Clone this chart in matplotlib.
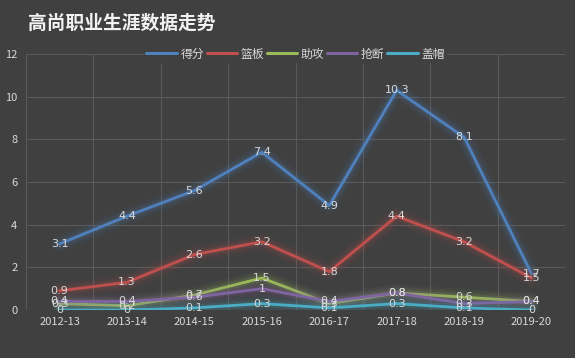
import numpy as np
import matplotlib
matplotlib.use('Agg')
import matplotlib.pyplot as plt
import matplotlib.patheffects as pe

plt.rcParams['font.family'] = ['Noto Sans CJK SC', 'DejaVu Sans']

seasons = ['2012-13', '2013-14', '2014-15', '2015-16', '2016-17', '2017-18', '2018-19', '2019-20']
points = [3.1, 4.4, 5.6, 7.4, 4.9, 10.3, 8.1, 1.7]
rebounds = [0.9, 1.3, 2.6, 3.2, 1.8, 4.4, 3.2, 1.5]
assists = [0.3, 0.2, 0.7, 1.5, 0.3, 0.8, 0.6, 0.4]
steals = [0.4, 0.4, 0.6, 1, 0.4, 0.8, 0.3, 0.4]
blocks = [0, 0, 0.1, 0.3, 0.1, 0.3, 0.1, 0]

series = [
    ('得分', points, '#4f81bd'),
    ('篮板', rebounds, '#c0504d'),
    ('助攻', assists, '#9bbb59'),
    ('抢断', steals, '#8064a2'),
    ('盖帽', blocks, '#4bacc6'),
]

bg = '#404040'
txt = '#d9d9d9'

fig = plt.figure(figsize=(5.75, 3.58), dpi=100, facecolor=bg)
ax = fig.add_axes([0.045, 0.134, 0.938, 0.715], facecolor=bg)

x = np.arange(len(seasons))
for name, vals, col in series:
    glow = [pe.Stroke(linewidth=12, foreground=col, alpha=0.05),
            pe.Stroke(linewidth=8.5, foreground=col, alpha=0.08),
            pe.Stroke(linewidth=5, foreground=col, alpha=0.15),
            pe.Normal()]
    ax.plot(x, vals, color=col, lw=2.0, label=name, path_effects=glow, zorder=3,
            solid_capstyle='round', solid_joinstyle='round')
    for xi, v in zip(x, vals):
        ax.text(xi, v, f'{v:g}', color=txt, fontsize=8, ha='center', va='center',
                family='DejaVu Sans', zorder=4)

ax.set_xlim(-0.5, len(seasons) - 0.5)
ax.set_ylim(0, 12)
ax.set_yticks(np.arange(0, 13, 2))
ax.set_xticks(x)
ax.set_xticklabels(seasons)
ax.set_xticks(np.arange(-0.5, len(seasons), 1), minor=True)
ax.grid(True, which='minor', axis='x', color='#595959', lw=0.8)
ax.grid(True, which='major', axis='y', color='#595959', lw=0.8)
ax.tick_params(which='both', length=0, colors=txt, labelsize=8)
ax.tick_params(axis='x', pad=5)
ax.tick_params(axis='y', pad=6)
for s in ax.spines.values():
    s.set_visible(False)

leg = ax.legend(loc='center', bbox_to_anchor=(0.5, 1.0), ncol=5, frameon=True,
                facecolor=bg, edgecolor=bg, framealpha=1, fontsize=8.5,
                handlelength=2.6, handletextpad=0.3, columnspacing=0.2,
                borderpad=0.1)
for t in leg.get_texts():
    t.set_color(txt)
for h in leg.get_lines():
    h.set_path_effects([])
    h.set_linewidth(2.2)

fig.text(0.048, 0.935, '高尚职业生涯数据走势', color='#f2f2f2', fontsize=13.5,
         fontweight='bold', ha='left', va='center')

fig.savefig('out.png', dpi=100, facecolor=bg)
